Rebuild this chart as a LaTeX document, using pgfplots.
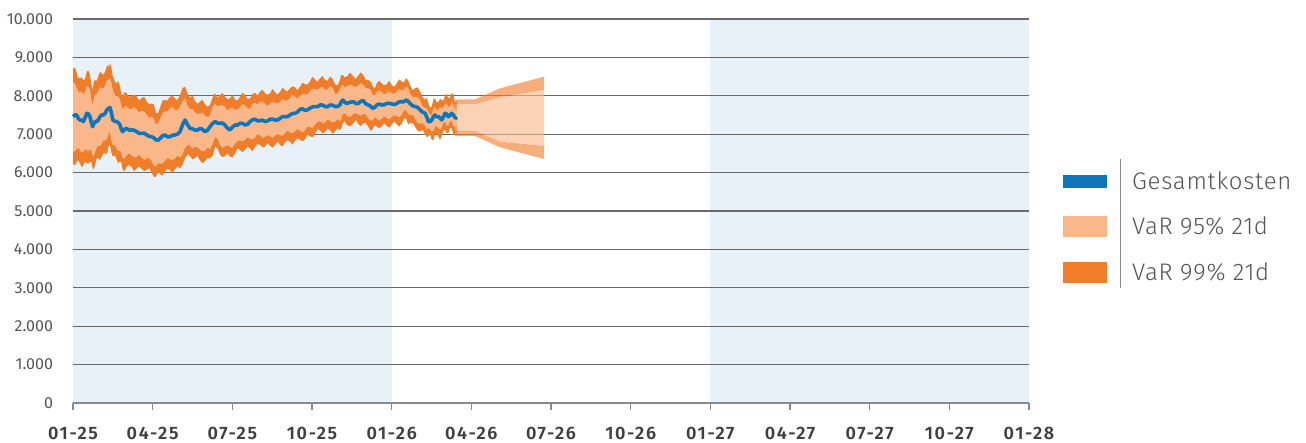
\documentclass[border=0pt]{standalone}
\usepackage{fontspec}
\setmainfont{Fira Sans}
\IfFontExistsTF{Fira Sans Light}{\newfontfamily\lightfont{Fira Sans Light}[LetterSpace=3]}{\newfontfamily\lightfont{Fira Sans}[LetterSpace=3]}
\IfFontExistsTF{Fira Sans SemiBold}{\newfontfamily\semib{Fira Sans SemiBold}[LetterSpace=9]}{\newfontfamily\semib{Fira Sans}[UprightFont=*~Bold, LetterSpace=9]}
\usepackage{pgfplots}
\usepackage{pgfplotstable}
\pgfplotsset{compat=1.18}
\usepgfplotslibrary{fillbetween}

\definecolor{gkblue}{RGB}{16,118,188}
\definecolor{var95}{RGB}{250,183,138}
\definecolor{var99}{RGB}{240,125,42}
\definecolor{bandblue}{RGB}{232,241,247}
\definecolor{gridgray}{RGB}{105,105,105}
\definecolor{axgray}{RGB}{138,138,138}
\definecolor{txtgray}{RGB}{85,85,85}
\definecolor{ticktxt}{RGB}{64,64,64}

% history: month since 01-25, Gesamtkosten, VaR bounds
\pgfplotstableread{
m      mid  hi99 hi95 lo95 lo99
0.00   7460 8720 8340 6560 6230
0.07   7500 8735 8325 6548 6188
0.14   7500 8590 8210 6615 6285
0.20   7410 8463 8103 6648 6318
0.26   7370 8455 8075 6580 6250
0.33   7365 8473 8113 6525 6135
0.39   7330 8410 8030 6530 6200
0.45   7418 8430 8090 6615 6285
0.52   7545 8630 8250 6580 6250
0.58   7525 8655 8235 6548 6228
0.64   7456 8540 8160 6615 6285
0.69   7311 8305 7905 6568 6278
0.74   7196 8150 7770 6440 6110
0.785  7273 8380 7940 6425 6095
0.83   7330 8410 8030 6530 6200
0.89   7325 8385 8045 6645 6375
0.95   7370 8500 8120 6700 6370
1.015  7455 8623 8213 6685 6325
1.08   7500 8585 8205 6750 6420
1.145  7498 8548 8188 6840 6510
1.21   7545 8630 8250 6830 6500
1.27   7625 8755 8395 6875 6485
1.33   7675 8800 8420 6980 6650
1.36   7668 8733 8393 7075 6745
1.39   7700 8846 8466 7050 6720
1.445  7560 8743 8343 6833 6528
1.50   7370 8500 8160 6715 6415
1.575  7335 8373 8013 6713 6453
1.65   7330 8325 7985 6630 6330
1.71   7295 8383 7983 6548 6248
1.77   7240 8240 7900 6585 6285
1.82   7128 8039 7739 6508 6268
1.87   7065 7977 7637 6370 6070
1.945  7128 8101 7731 6373 6043
2.02   7150 8065 7725 6455 6155
2.115  7105 7973 7653 6498 6198
2.21   7110 8000 7660 6440 6140
2.305  7103 8029 7709 6395 6035
2.40   7065 7977 7637 6410 6110
2.495  7023 7874 7574 6460 6160
2.59   7020 7950 7610 6390 6090
2.685  7025 7968 7588 6330 6040
2.78   6980 7846 7506 6370 6070
2.87   6943 7783 7423 6375 6115
2.96   6935 7800 7460 6300 6000
3.045  6903 7773 7393 6178 5888
3.13   6850 7545 7245 6175 5895
3.205  6845 7553 7293 6238 6018
3.28   6890 7700 7400 6240 5960
3.37   6955 7875 7545 6233 5923
3.46   6980 7890 7590 6305 6025
3.555  6933 7874 7594 6378 6098
3.65   6935 7977 7677 6350 6070
3.745  6973 7995 7715 6330 5990
3.84   6980 7933 7633 6370 6090
3.935  7003 7887 7627 6440 6160
4.03   7065 8020 7720 6390 6110
4.125  7243 8200 7860 6470 6200
4.22   7370 8240 7940 6650 6370
4.315  7245 8055 7735 6720 6480
4.41   7150 7950 7650 6710 6430
4.50   7140 8010 7650 6625 6345
4.59   7110 7870 7570 6660 6380
4.685  7105 7788 7528 6660 6440
4.78   7150 7846 7546 6600 6320
4.875  7128 7893 7563 6550 6240
4.97   7065 7780 7480 6580 6300
5.065  7106 7710 7445 6650 6385
5.16   7196 7760 7490 6620 6370
5.255  7278 7953 7703 6743 6433
5.35   7330 8065 7795 6925 6675
5.445  7288 7953 7723 6878 6628
5.54   7285 8020 7750 6710 6460
5.63   7288 8070 7760 6645 6405
5.72   7240 7980 7710 6680 6430
5.815  7160 7917 7627 6713 6503
5.91   7110 7933 7663 6665 6415
6.005  7185 8020 7690 6648 6398
6.10   7240 7907 7637 6750 6500
6.195  7238 7872 7642 6825 6635
6.29   7285 7977 7707 6840 6590
6.385  7283 8079 7779 6810 6530
6.48   7240 8020 7750 6860 6610
6.575  7260 7917 7667 6920 6670
6.67   7330 7933 7663 6880 6630
6.76   7375 8047 7797 6865 6555
6.85   7390 8080 7810 6910 6660
6.945  7350 8004 7774 7000 6750
7.04   7350 8107 7837 6970 6720
7.135  7365 8156 7846 6898 6658
7.23   7330 8065 7795 6925 6675
7.325  7345 8025 7735 6978 6768
7.42   7390 8065 7795 6950 6700
7.515  7390 8178 7848 6900 6650
7.61   7370 8090 7820 6970 6720
7.705  7368 8029 7799 7000 6810
7.80   7415 8107 7837 6970 6720
7.89   7456 8209 7909 6960 6680
7.98   7456 8150 7880 7030 6780
8.075  7453 8113 7873 7088 6843
8.17   7500 8195 7945 7045 6805
8.265  7538 8248 8018 7028 6728
8.36   7545 8220 7970 7070 6830
8.455  7578 8140 7930 7140 6900
8.55   7650 8240 7990 7090 6850
8.645  7660 8340 8050 7050 6820
8.74   7620 8300 8050 7110 6870
8.83   7633 8295 8025 7190 6990
8.92   7675 8370 8120 7190 6950
9.015  7708 8495 8185 7155 6915
9.11   7720 8420 8170 7240 7000
9.205  7715 8368 8158 7320 7140
9.30   7760 8455 8205 7340 7100
9.395  7760 8513 8233 7283 7013
9.49   7720 8410 8160 7305 7065
9.585  7715 8395 8165 7378 7138
9.68   7760 8500 8250 7350 7110
9.775  7755 8440 8210 7305 7005
9.87   7720 8300 8050 7320 7080
9.96   7720 8265 8055 7395 7155
10.05  7760 8410 8160 7350 7110
10.105 7850 8545 8255 7388 7158
10.16  7890 8540 8290 7525 7285
10.235 7830 8480 8210 7543 7343
10.31  7800 8500 8250 7480 7240
10.435 7833 8600 8290 7443 7203
10.56  7846 8500 8250 7525 7285
10.65  7798 8440 8230 7548 7368
10.74  7800 8520 8270 7510 7270
10.835 7857 8610 8330 7478 7208
10.93  7873 8540 8290 7525 7285
11.025 7792 8415 8200 7516 7291
11.12  7760 8410 8190 7406 7196
11.205 7733 8365 8165 7353 7083
11.29  7675 8240 8020 7360 7150
11.365 7698 8193 8013 7443 7233
11.44  7760 8325 8105 7406 7196
11.53  7785 8395 8135 7356 7156
11.62  7760 8325 8105 7406 7196
11.715 7765 8273 8033 7458 7288
11.81  7800 8300 8080 7430 7220
11.905 7805 8390 8110 7380 7170
12.00  7790 8280 8060 7450 7240
12.095 7770 8233 8053 7490 7340
12.19  7800 8325 8105 7470 7260
12.285 7843 8428 8178 7443 7203
12.38  7846 8370 8150 7495 7285
12.46  7843 8353 8153 7610 7400
12.54  7890 8455 8235 7625 7415
12.615 7860 8408 8208 7530 7260
12.69  7800 8280 8060 7495 7285
12.785 7740 8148 7968 7511 7301
12.88  7720 8195 7975 7406 7196
12.975 7700 8221 7961 7291 7091
13.07  7630 8107 7887 7275 7065
13.165 7573 7964 7724 7283 7113
13.26  7545 7900 7680 7210 7000
13.32  7448 7950 7670 7125 6915
13.38  7330 7800 7580 7160 6950
13.445 7325 7690 7510 7140 6990
13.51  7370 7720 7500 7060 6850
13.57  7455 7907 7657 7085 6845
13.63  7500 7933 7713 7190 6980
13.695 7453 7830 7630 7218 7008
13.76  7456 7846 7626 7145 6935
13.82  7428 7913 7713 7123 6853
13.88  7370 7900 7680 7160 6950
13.945 7438 7870 7690 7300 7090
14.01  7545 8020 7800 7320 7110
14.07  7525 8047 7787 7225 7025
14.13  7456 7933 7713 7230 7020
14.195 7485 7959 7719 7335 7165
14.26  7545 8065 7845 7360 7150
14.32  7503 8056 7776 7215 7005
14.38  7440 7846 7626 7190 6980
14.42  7415 7803 7623 7230 7080
14.46  7440 7900 7680 7210 7000
}\hist

% forecast cone
\pgfplotstableread{
m     hi99 hi95 lo95 lo99
14.38 7908 7778 7083 6953
15.14 7908 7778 7083 6953
16.08 8195 7960 6806 6658
17.74 8498 8151 6693 6354
}\cone

\begin{document}
\begin{tikzpicture}
\begin{axis}[
  set layers,
  scale only axis,
  width=478pt, height=192pt,
  xmin=0, xmax=36, ymin=0, ymax=10000,
  axis x line*=bottom, axis y line*=left,
  y axis line style={draw=none},
  x axis line style={axgray, line width=0.7pt},
  xtick={0,3,...,36},
  xticklabels={01-25,04-25,07-25,10-25,01-26,04-26,07-26,10-26,01-27,04-27,07-27,10-27,01-28},
  ytick={0,1000,...,10000},
  yticklabels={0,1.000,2.000,3.000,4.000,5.000,6.000,7.000,8.000,9.000,10.000},
  scaled y ticks=false,
  ymajorgrids,
  grid style={gridgray, line width=0.65pt},
  tick align=outside,
  major tick length=3.5pt,
  xtick style={axgray, line width=0.6pt},
  ytick style={draw=none},
  xticklabel style={font=\semib\fontsize{9}{10}\selectfont, text=ticktxt, yshift=-5pt},
  yticklabel style={font=\fontsize{8}{9}\selectfont, text=txtgray, xshift=-3pt},
  clip=false,
]
\begin{pgfonlayer}{axis background}
  \fill[bandblue] (axis cs:0,0) rectangle (axis cs:12,10000);
  \fill[bandblue] (axis cs:24,0) rectangle (axis cs:36,10000);
\end{pgfonlayer}

\addplot[draw=none, name path=h99] table[x=m, y=hi99] {\hist};
\addplot[draw=none, name path=h95] table[x=m, y=hi95] {\hist};
\addplot[draw=none, name path=l95] table[x=m, y=lo95] {\hist};
\addplot[draw=none, name path=l99] table[x=m, y=lo99] {\hist};
\addplot[var99] fill between[of=h99 and l99];
\addplot[var95] fill between[of=h95 and l95];

\addplot[draw=none, name path=ch99] table[x=m, y=hi99] {\cone};
\addplot[draw=none, name path=ch95] table[x=m, y=hi95] {\cone};
\addplot[draw=none, name path=cl95] table[x=m, y=lo95] {\cone};
\addplot[draw=none, name path=cl99] table[x=m, y=lo99] {\cone};
\addplot[var99, fill opacity=0.62] fill between[of=ch99 and ch95];
\addplot[var95, fill opacity=0.62] fill between[of=ch95 and cl95];
\addplot[var99, fill opacity=0.62] fill between[of=cl95 and cl99];

\addplot[gkblue, line width=1.8pt, line join=round] table[x=m, y=mid] {\hist};

\coordinate (sw) at (rel axis cs:0,0);
\coordinate (ne) at (rel axis cs:1,1);
\end{axis}

% legend
\begin{scope}[shift={(sw)}, x=1pt, y=1pt]
  \fill[gkblue] (495,107.7) rectangle (517,114.0);
  \fill[var95] (495,83.2) rectangle (517,93.5);
  \fill[var99] (495,60.2) rectangle (517,70.5);
  \draw[axgray, line width=0.6pt] (523.9,57.4) -- (523.9,121.9);
  \begin{scope}[every node/.style={anchor=base west, inner sep=0pt, text=txtgray,
      font=\lightfont\fontsize{12}{14}\selectfont}]
    \node at (529.4,106.7) {Gesamtkosten};
    \node at (529.4,84.2) {VaR 95\% 21d};
    \node at (529.4,61.2) {VaR 99\% 21d};
  \end{scope}
\end{scope}

\pgfresetboundingbox
\path[use as bounding box] ([xshift=-36.5pt, yshift=-20pt]sw) rectangle ([xshift=138.5pt, yshift=9.5pt]ne);
\end{tikzpicture}
\end{document}
